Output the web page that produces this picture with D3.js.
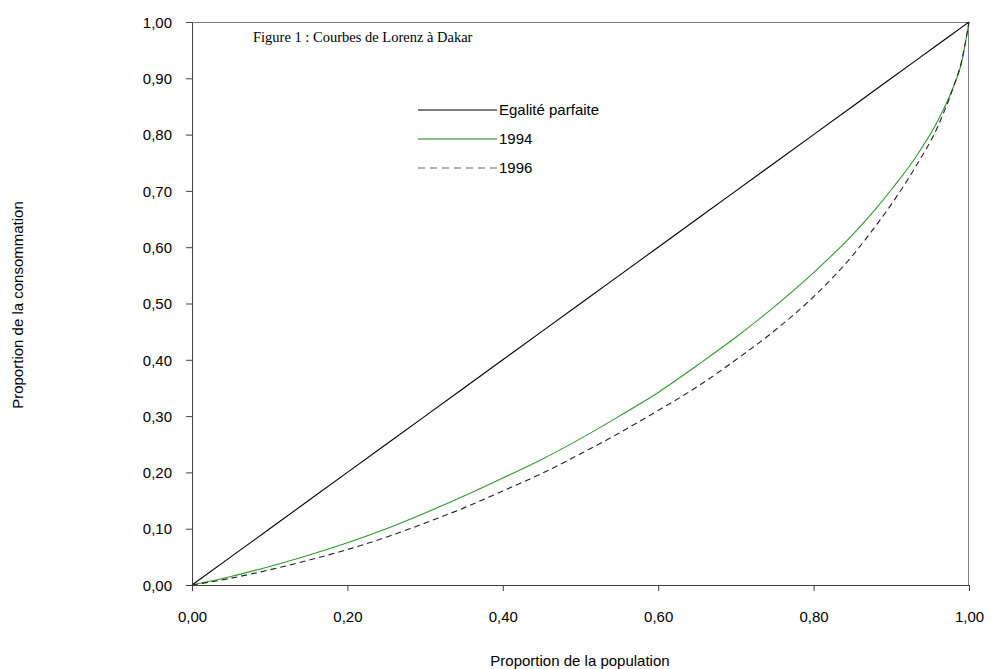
<!DOCTYPE html>
<html><head><meta charset="utf-8">
<script src="https://cdn.jsdelivr.net/npm/d3@7"></script>
<style>body{margin:0;background:#fff}svg{display:block}</style>
</head><body>
<script>
const popShare = [0,0.05,0.10,0.15,0.20,0.25,0.30,0.35,0.40,0.45,0.50,0.55,0.60,0.65,0.70,0.75,0.80,0.85,0.88,0.90,0.93,0.96,0.98,0.99,1.00];
const equality = [0,0.05,0.10,0.15,0.20,0.25,0.30,0.35,0.40,0.45,0.50,0.55,0.60,0.65,0.70,0.75,0.80,0.85,0.88,0.90,0.93,0.96,0.98,0.99,1.00];
const lorenz1994 = [0,0.015,0.033,0.053,0.075,0.100,0.128,0.158,0.190,0.223,0.260,0.300,0.342,0.390,0.440,0.495,0.555,0.622,0.668,0.702,0.757,0.825,0.885,0.925,1.00];
const lorenz1996 = [0,0.012,0.027,0.044,0.063,0.085,0.110,0.137,0.167,0.198,0.233,0.270,0.310,0.352,0.400,0.452,0.512,0.585,0.638,0.676,0.740,0.815,0.885,0.928,1.00];
const tickVals = [0,0.1,0.2,0.3,0.4,0.5,0.6,0.7,0.8,0.9,1.0];
const xTickVals = [0,0.2,0.4,0.6,0.8,1.0];
const seriesNames = ["Egalité parfaite","1994","1996"];

const W=991,H=669;
const svg=d3.select("body").append("svg").attr("width",W).attr("height",H);
const x=d3.scaleLinear().domain([0,1]).range([192,969]);
const y=d3.scaleLinear().domain([0,1]).range([585,22]);
const fmt=d=>d3.format(".2f")(d).replace(".",",");

// frame top/right
svg.append("line").attr("x1",192).attr("x2",969).attr("y1",22.5).attr("y2",22.5).attr("stroke","#808080");
svg.append("line").attr("x1",968.5).attr("x2",968.5).attr("y1",22).attr("y2",585).attr("stroke","#808080");

const yAx=svg.append("g").attr("transform","translate(192,0)")
  .call(d3.axisLeft(y).tickValues(tickVals).tickFormat(fmt).tickSize(6).tickSizeOuter(0));
const xAx=svg.append("g").attr("transform","translate(0,585)")
  .call(d3.axisBottom(x).tickValues(xTickVals).tickFormat(fmt).tickSize(6).tickSizeOuter(0));
[yAx,xAx].forEach(g=>{
  g.select(".domain").attr("stroke","#404040");
  g.selectAll(".tick line").attr("stroke","#404040");
  g.selectAll("text").attr("font-family","Liberation Sans, Arial, sans-serif").attr("font-size",15).attr("fill","#000");
});
yAx.selectAll("text").attr("x",-20).attr("dy","0.35em");
xAx.selectAll("text").attr("y",26);

const line=d3.line().x(d=>x(d[0])).y(d=>y(d[1]));
const zip=v=>popShare.map((p,i)=>[p,v[i]]);
svg.append("path").datum(zip(equality)).attr("d",line).attr("fill","none").attr("stroke","#000").attr("stroke-width",1.1);
svg.append("path").datum(zip(lorenz1994)).attr("d",line.curve(d3.curveMonotoneX)).attr("fill","none").attr("stroke","#2e9a2e").attr("stroke-width",1.1);
svg.append("path").datum(zip(lorenz1996)).attr("d",line.curve(d3.curveMonotoneX)).attr("fill","none").attr("stroke","#222").attr("stroke-width",1.1).attr("stroke-dasharray","6,4");

// title
svg.append("text").attr("x",253).attr("y",42).attr("font-family","Liberation Serif, Times New Roman, serif").attr("font-size",14.5).text("Figure 1 : Courbes de Lorenz à Dakar");

// legend
const leg=[{c:"#000",d:null},{c:"#1e7a1e",d:null},{c:"#666",d:"7,5"}];
seriesNames.forEach((n,i)=>{
  const yy=110+i*29;
  const l=svg.append("line").attr("x1",418).attr("x2",497).attr("y1",yy).attr("y2",yy).attr("stroke",leg[i].c).attr("stroke-width",1.1);
  if(leg[i].d) l.attr("stroke-dasharray",leg[i].d);
  svg.append("text").attr("x",499).attr("y",yy+5).attr("font-family","Liberation Sans, Arial, sans-serif").attr("font-size",15).text(n);
});

// axis titles
svg.append("text").attr("transform","translate(23,305) rotate(-90)").attr("text-anchor","middle").attr("font-family","Liberation Sans, Arial, sans-serif").attr("font-size",15).text("Proportion de la consommation");
svg.append("text").attr("x",580).attr("y",666).attr("text-anchor","middle").attr("font-family","Liberation Sans, Arial, sans-serif").attr("font-size",15).text("Proportion de la population");
</script>
</body></html>
